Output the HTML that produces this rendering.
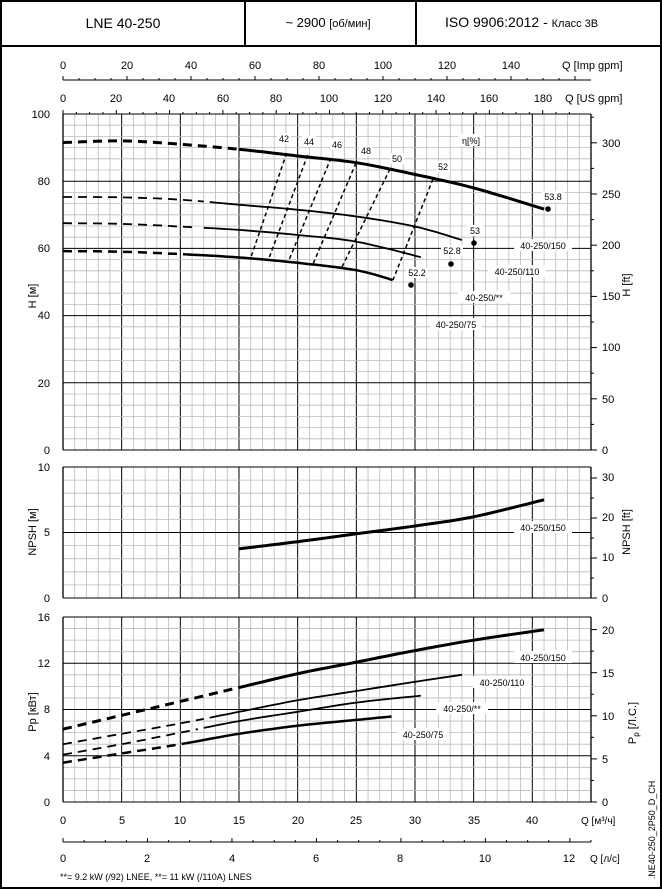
<!DOCTYPE html>
<html><head><meta charset="utf-8"><style>
body{margin:0;background:#fff}
svg{display:block;font-family:"Liberation Sans",sans-serif}
.t{font-size:11px;fill:#000}
.s{font-size:9px;fill:#000}
.lb{fill:#fff}
</style></head><body>
<svg id="c" width="662" height="889" viewBox="0 0 662 889" xmlns="http://www.w3.org/2000/svg">
<rect x="1" y="1" width="660" height="887" fill="#fff" stroke="#000" stroke-width="2"/>
<line x1="0" y1="46" x2="662" y2="46" stroke="#000" stroke-width="2"/>
<line x1="245" y1="0" x2="245" y2="46" stroke="#000" stroke-width="2"/>
<line x1="416" y1="0" x2="416" y2="46" stroke="#000" stroke-width="2"/>
<text x="123" y="28" font-size="14" text-anchor="middle">LNE 40-250</text>
<text x="328" y="27" font-size="13" text-anchor="middle">~ 2900 <tspan font-size="11">[об/мин]</tspan></text>
<text x="445" y="27" font-size="14">ISO 9906:2012 - <tspan font-size="11">Класс 3B</tspan></text>
<g id="grid"></g>
<g id="curves"></g>
<g class="t">
<text x="63" y="69" text-anchor="middle">0</text><text x="127" y="69" text-anchor="middle">20</text><text x="191" y="69" text-anchor="middle">40</text><text x="255" y="69" text-anchor="middle">60</text><text x="319" y="69" text-anchor="middle">80</text><text x="383" y="69" text-anchor="middle">100</text><text x="447" y="69" text-anchor="middle">120</text><text x="511" y="69" text-anchor="middle">140</text><text x="562" y="69">Q [Imp gpm]</text>
<text x="63" y="102" text-anchor="middle">0</text><text x="116" y="102" text-anchor="middle">20</text><text x="169" y="102" text-anchor="middle">40</text><text x="223" y="102" text-anchor="middle">60</text><text x="276" y="102" text-anchor="middle">80</text><text x="329" y="102" text-anchor="middle">100</text><text x="383" y="102" text-anchor="middle">120</text><text x="436" y="102" text-anchor="middle">140</text><text x="489" y="102" text-anchor="middle">160</text><text x="543" y="102" text-anchor="middle">180</text><text x="565" y="102">Q [US gpm]</text>
<g text-anchor="end"><text x="50" y="118">100</text><text x="50" y="185">80</text><text x="50" y="252">60</text><text x="50" y="319">40</text><text x="50" y="387">20</text><text x="50" y="454">0</text>
<text x="50" y="471">10</text><text x="50" y="536">5</text><text x="50" y="602">0</text>
<text x="50" y="621">16</text><text x="50" y="667">12</text><text x="50" y="713">8</text><text x="50" y="760">4</text><text x="50" y="806">0</text></g>
<g><text x="602" y="147">300</text><text x="602" y="198">250</text><text x="602" y="249">200</text><text x="602" y="300">150</text><text x="602" y="351">100</text><text x="602" y="403">50</text><text x="602" y="454">0</text>
<text x="602" y="481">30</text><text x="602" y="521">20</text><text x="602" y="561">10</text><text x="602" y="602">0</text>
<text x="602" y="634">20</text><text x="602" y="677">15</text><text x="602" y="720">10</text><text x="602" y="763">5</text><text x="602" y="806">0</text></g>
<text transform="translate(36,296) rotate(-90)" text-anchor="middle">H [м]</text>
<text transform="translate(630,285) rotate(-90)" text-anchor="middle">H [ft]</text>
<text transform="translate(36,532) rotate(-90)" text-anchor="middle">NPSH [м]</text>
<text transform="translate(630,532) rotate(-90)" text-anchor="middle">NPSH [ft]</text>
<text transform="translate(36,712) rotate(-90)" text-anchor="middle">Pp [кВт]</text>
<text transform="translate(636,723) rotate(-90)" text-anchor="middle">P<tspan font-size="8" dy="3">p</tspan><tspan dy="-3"> [Л.С.]</tspan></text>
<g text-anchor="middle"><text x="63" y="824">0</text><text x="122" y="824">5</text><text x="180" y="824">10</text><text x="239" y="824">15</text><text x="298" y="824">20</text><text x="356" y="824">25</text><text x="415" y="824">30</text><text x="474" y="824">35</text><text x="532" y="824">40</text>
<text x="63" y="862">0</text><text x="147" y="862">2</text><text x="232" y="862">4</text><text x="316" y="862">6</text><text x="400" y="862">8</text><text x="485" y="862">10</text><text x="569" y="862">12</text></g>
<text x="581" y="824" font-size="10">Q [м³/ч]</text>
<text x="590" y="862" font-size="10">Q [л/с]</text>
</g>
<text x="60" y="880" font-size="9">**= 9.2 kW (/92) LNEE,  **= 11 kW (/110A) LNES</text>
<text transform="translate(655,830) rotate(-90)" font-size="9" text-anchor="middle">.NE40-250_2P50_D_CH</text>
<g class="s" text-anchor="middle" id="lbls">
<rect class="lb" x="277" y="133" width="14" height="11"/><text x="284" y="142">42</text>
<rect class="lb" x="302" y="136" width="14" height="11"/><text x="309" y="145">44</text>
<rect class="lb" x="330" y="139" width="14" height="11"/><text x="337" y="148">46</text>
<rect class="lb" x="359" y="145" width="14" height="11"/><text x="366" y="154">48</text>
<rect class="lb" x="390" y="153" width="14" height="11"/><text x="397" y="162">50</text>
<rect class="lb" x="436" y="161" width="14" height="11"/><text x="443" y="170">52</text>
<rect class="lb" x="458" y="134" width="26" height="12"/><text x="471" y="144">η[%]</text>
<rect class="lb" x="542" y="191" width="22" height="11"/><text x="553" y="200">53.8</text>
<rect class="lb" x="467" y="225" width="16" height="11"/><text x="475" y="234">53</text>
<rect class="lb" x="441" y="245" width="22" height="11"/><text x="452" y="254">52.8</text>
<rect class="lb" x="406" y="267" width="22" height="11"/><text x="417" y="276">52.2</text>
<rect class="lb" x="514" y="239" width="58" height="12"/><text x="543" y="249">40-250/150</text>
<rect class="lb" x="488" y="265" width="58" height="12"/><text x="517" y="275">40-250/110</text>
<rect class="lb" x="458" y="291" width="52" height="12"/><text x="484" y="301">40-250/**</text>
<rect class="lb" x="430" y="318" width="52" height="12"/><text x="456" y="328">40-250/75</text>
<rect class="lb" x="514" y="521" width="58" height="12"/><text x="543" y="531">40-250/150</text>
<rect class="lb" x="514" y="651" width="58" height="12"/><text x="543" y="661">40-250/150</text>
<rect class="lb" x="473" y="676" width="58" height="12"/><text x="502" y="686">40-250/110</text>
<rect class="lb" x="436" y="702" width="52" height="12"/><text x="462" y="712">40-250/**</text>
<rect class="lb" x="397" y="728" width="52" height="12"/><text x="423" y="738">40-250/75</text>
</g>
</svg>
<script>
const NS="http://www.w3.org/2000/svg",g=document.getElementById('grid'),cv=document.getElementById('curves');
function L(p,x1,y1,x2,y2,c,w,d){const l=document.createElementNS(NS,'line');l.setAttribute('x1',x1);l.setAttribute('y1',y1);l.setAttribute('x2',x2);l.setAttribute('y2',y2);l.setAttribute('stroke',c);l.setAttribute('stroke-width',w||1);if(d)l.setAttribute('stroke-dasharray',d);p.appendChild(l);}
const X=q=>63+q*11.733,X0=63,X1=591;
function panel(top,bot,vmax,minor,major){
 for(let q=0;q<=45;q++){L(g,X(q),top,X(q),bot,q%5==0?'#000':'#bbb',q%5==0?1:0.8);}
 const n=Math.round(vmax/minor);
 for(let i=0;i<=n;i++){const v=i*minor,y=bot-(bot-top)*v/vmax;const mj=Math.abs(v/major-Math.round(v/major))<1e-6;L(g,X0,y,X1,y,mj?'#000':'#bbb',mj?1:0.8);}
 L(g,X0,top,X0,bot,'#000',1.3);L(g,X1,top,X1,bot,'#000',1.3);
}
panel(114,450,100,10/3,20);panel(467,598,10,1,5);panel(617,802,16,1,4);
// top axes
L(g,63,80,591,80,'#000',1);for(let v=0;v<=160;v+=5){const x=63+v*3.2;if(x>591)break;L(g,x,80,x,v%20==0?76:78,'#000',1);}
for(let v=0;v<=190;v+=5){const x=63+v*2.665;if(x>591)break;L(g,x,114,x,v%20==0?110:112,'#000',1);}
L(g,63,842,591,842,'#000',1);for(let v=0;v<=12.5;v+=0.5){const x=63+v*42.24;L(g,x,842,x,v%2==0?838:840,'#000',1);}
// right ticks
function rt(top,bot,n){for(let i=0;i<=n;i++){const y=bot-(bot-top)*i/n;L(g,591,y,596,y,'#000',1);}}
for(let f=0;f<=330;f+=25){L(g,591,450-f*1.024,f%50==0?597:594,450-f*1.024,'#000',1);}
for(let f=0;f<=32;f+=5){L(g,591,598-f*4.0,f%10==0?597:594,598-f*4.0,'#000',1);}
for(let f=0;f<=21;f+=2.5){L(g,591,802-f*8.62,f%5==0?597:594,802-f*8.62,'#000',1);}
function path(pts,toY,w,dashEnd){
 // smooth via catmull-rom sampling
 const P=pts.map(p=>[X(p[0]),toY(p[1])]);let samples=[];
 for(let i=0;i<P.length-1;i++){const p0=P[Math.max(i-1,0)],p1=P[i],p2=P[i+1],p3=P[Math.min(i+2,P.length-1)];
  for(let t=0;t<1;t+=0.1){const t2=t*t,t3=t2*t;samples.push([0.5*(2*p1[0]+(-p0[0]+p2[0])*t+(2*p0[0]-5*p1[0]+4*p2[0]-p3[0])*t2+(-p0[0]+3*p1[0]-3*p2[0]+p3[0])*t3),0.5*(2*p1[1]+(-p0[1]+p2[1])*t+(2*p0[1]-5*p1[1]+4*p2[1]-p3[1])*t2+(-p0[1]+3*p1[1]-3*p2[1]+p3[1])*t3)]);}}
 samples.push(P[P.length-1]);
 const xd=X(dashEnd);const a=samples.filter(s=>s[0]<=xd),b=samples.filter(s=>s[0]>=xd-0.5);
 function mk(s,d){if(s.length<2)return;const p=document.createElementNS(NS,'path');p.setAttribute('d','M'+s.map(v=>v[0].toFixed(1)+','+v[1].toFixed(1)).join('L'));p.setAttribute('fill','none');p.setAttribute('stroke','#000');p.setAttribute('stroke-width',w);if(d)p.setAttribute('stroke-dasharray',d);cv.appendChild(p);}
 mk(a,'9,6');mk(b,null);
}
const H=v=>450-v*3.36,N=v=>598-v*13.1,Pw=v=>802-v*11.56;
path([[0,91.5],[5,92],[10,91],[15,89.5],[20,87.5],[25,85.5],[30,82],[35,78],[41,71.7]],H,3,15);
path([[0,75.3],[5,75.2],[10,74.5],[15,73],[20,71.5],[25,69.5],[30,66.5],[34,62.5]],H,1.8,12.5);
path([[0,67.5],[5,67.3],[10,66.5],[15,65.5],[20,64],[25,62],[30.5,57.4]],H,1.8,12);
path([[0,59.2],[5,59],[10,58.3],[15,57.3],[20,55.7],[25,53.5],[28.1,50.6]],H,2.5,10.5);
path([[15,3.75],[20,4.3],[25,4.9],[30,5.5],[35,6.2],[41,7.5]],N,3,0);
path([[0,6.3],[5,7.5],[10,8.7],[15,9.9],[20,11.1],[25,12.1],[30,13.1],[35,14.0],[41,14.9]],Pw,3,15);
path([[0,5],[5,5.9],[10,6.8],[15,7.8],[20,8.8],[25,9.6],[30,10.4],[34,11.0]],Pw,1.8,12.5);
path([[0,4.1],[5,5.0],[10,6.0],[15,7.0],[20,7.8],[25,8.6],[30.5,9.2]],Pw,1.8,12);
path([[0,3.4],[5,4.2],[10,5.0],[15,5.9],[20,6.6],[25,7.1],[28,7.4]],Pw,2.5,10.5);
[[286.7,153,251,257],[307.7,155,269,258],[331,158,289,260],[356,163,313,264],[390,169,342,267],[433,179,393,280]].forEach(a=>L(cv,a[0],a[1],a[2],a[3],'#000',1.5,'4,3'));
[[548,209],[474,243],[451,264],[411,285]].forEach(p=>{const c=document.createElementNS(NS,'circle');c.setAttribute('cx',p[0]);c.setAttribute('cy',p[1]);c.setAttribute('r',2.8);cv.appendChild(c);});
</script>
</body></html>
